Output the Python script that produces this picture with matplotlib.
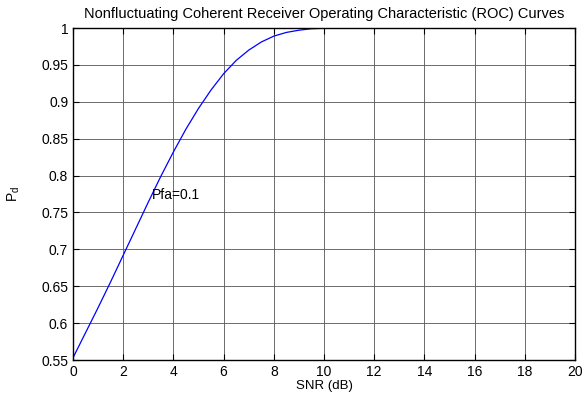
import matplotlib.pyplot as plt

# values (Pfa = 0.1)
snr_db = [0, 0.5, 1, 1.5, 2, 2.5, 3, 3.5, 4, 4.5, 5, 5.5, 6, 6.5, 7, 7.5,
          8, 8.5, 9, 9.5, 10, 11, 12, 13, 14, 15, 16, 17, 18, 19, 20]
pd = [0.553, 0.587, 0.621, 0.656, 0.692, 0.728, 0.764, 0.799, 0.832, 0.863,
      0.891, 0.916, 0.938, 0.956, 0.970, 0.981, 0.989, 0.994, 0.997, 0.999,
      0.9996, 1.0, 1.0, 1.0, 1.0, 1.0, 1.0, 1.0, 1.0, 1.0, 1.0]

x_ticks = [0, 2, 4, 6, 8, 10, 12, 14, 16, 18, 20]
y_ticks = [0.55, 0.6, 0.65, 0.7, 0.75, 0.8, 0.85, 0.9, 0.95, 1]

plt.rcParams['font.family'] = ['Liberation Sans', 'DejaVu Sans']

fig = plt.figure(figsize=(5.82, 3.96), dpi=100)
ax = fig.add_axes([73 / 582, 36 / 396, 502 / 582, 332 / 396])

ax.plot(snr_db, pd, color='#0000ff', linewidth=0.9)

ax.set_xlim(0, 20)
ax.set_ylim(0.55, 1)
ax.set_xticks(x_ticks)
ax.set_yticks(y_ticks)
ax.set_yticklabels(['0.55', '0.6', '0.65', '0.7', '0.75', '0.8', '0.85', '0.9', '0.95', '1'])
ax.tick_params(direction='in', top=True, right=True, labelsize=10, length=4, width=0.8)
ax.grid(True, color='#555555', linewidth=0.6)

for s in ax.spines.values():
    s.set_linewidth(1.0)

ax.set_title('Nonfluctuating Coherent Receiver Operating Characteristic (ROC) Curves',
             fontsize=10.5, pad=7)
ax.set_xlabel('SNR (dB)', fontsize=9.5, labelpad=1)
ax.set_ylabel('P$_\\mathregular{d}$', fontsize=10, labelpad=14)

ax.text(3.15, 0.774, 'Pfa=0.1', fontsize=10, va='center', ha='left')

fig.savefig('out.png', dpi=100)
